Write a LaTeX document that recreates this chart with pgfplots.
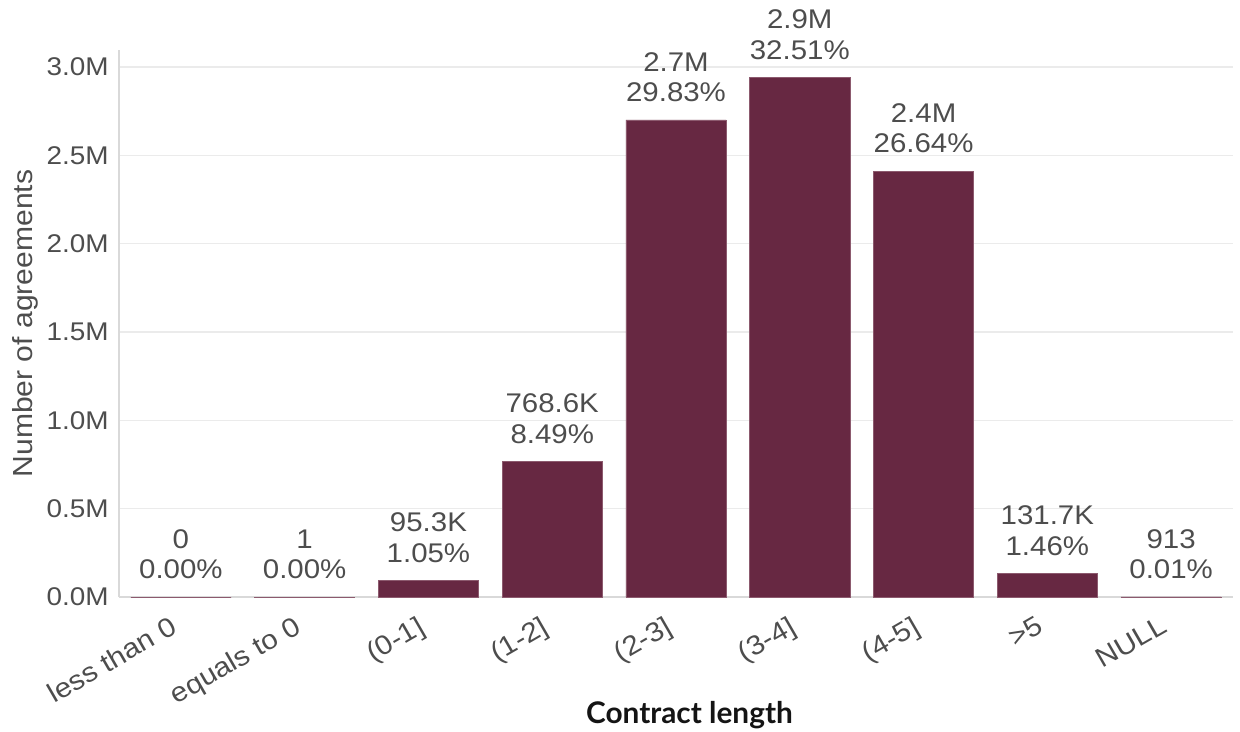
\documentclass[border=0pt]{standalone}
\usepackage{pgfplots}
\pgfplotsset{compat=1.18}
\usepackage{pgfplotstable}
\usepackage{fontspec}
\setmainfont{Liberation Sans}[FakeStretch=1.09]
\newfontfamily\titlefont{Lato}

\definecolor{barfill}{HTML}{672842}
\definecolor{baredge}{HTML}{8C5A6E}
\definecolor{txtgray}{HTML}{4D4D4D}
\definecolor{gridgray}{HTML}{EBEBEB}
\definecolor{axisgray}{HTML}{D9D9D9}

% counts in millions, label text, share in percent
\pgfplotstableread{
x y lab pct
0 0 0 0.00
1 0.000001 1 0.00
2 0.0953 95.3K 1.05
3 0.7686 768.6K 8.49
4 2.700 2.7M 29.83
5 2.942 2.9M 32.51
6 2.411 2.4M 26.64
7 0.1317 131.7K 1.46
8 0.000913 913 0.01
}\contractdata

\begin{document}
\begin{tikzpicture}
\begin{axis}[
  name=ax,
  scale only axis,
  width=557pt, height=273.5pt,
  xmin=-0.5, xmax=8.5,
  ymin=0, ymax=3.096,
  axis lines*=left,
  axis line style={axisgray, line width=1pt},
  ytick={0,0.5,1,1.5,2,2.5,3},
  yticklabel={\pgfmathprintnumber[fixed,fixed zerofill,precision=1]{\tick}M},
  /pgf/number format/assume math mode=true,
  ymajorgrids,
  grid style={gridgray, line width=0.65pt},
  major tick length=0pt,
  tick style={draw=none},
  xtick={0,1,2,3,4,5,6,7,8},
  xticklabels={{less than 0},{equals to 0},{(0-1]},{(1-2]},{(2-3]},{(3-4]},{(4-5]},{>5},{NULL}},
  xticklabel style={rotate=30, anchor=north east, font=\fontsize{13.6}{15}\selectfont, text=txtgray, inner sep=0pt, xshift=-9.5pt, yshift=-4.5pt},
  yticklabel style={font=\fontsize{12.8}{14}\selectfont, text=txtgray, inner sep=0pt, anchor=east, xshift=-5pt},
  ylabel={Number of agreements},
  ylabel style={at={(axis description cs:0,0.5)}, anchor=center, yshift=47pt, font=\fontsize{13.8}{15}\selectfont, text=txtgray},
  xlabel={\titlefont\bfseries Contract length},
  xlabel style={at={(axis description cs:0.5,0)}, anchor=base, xshift=6.75pt, yshift=-63pt, font=\fontsize{14.9}{16}\selectfont, text=black!92},
  clip=false,
]
\addplot[
  ybar, bar width=0.81, fill=barfill, draw=baredge, line width=0.3pt,
  point meta=explicit symbolic,
  visualization depends on={\thisrow{pct} \as \pct},
  nodes near coords={\pgfplotspointmeta\\\pgfmathprintnumber[fixed,fixed zerofill,precision=2]{\pct}\%},
  nodes near coords style={align=center, anchor=south, font=\fontsize{13.5}{15.3}\selectfont, text=txtgray, inner sep=0pt, yshift=8.8pt},
] table[x=x, y=y, meta=lab] {\contractdata};
\end{axis}
\pgfresetboundingbox
\path[use as bounding box] ([shift={(-59.5pt,-67pt)}]ax.south west) rectangle ([shift={(3.5pt,25pt)}]ax.north east);
\end{tikzpicture}
\end{document}
